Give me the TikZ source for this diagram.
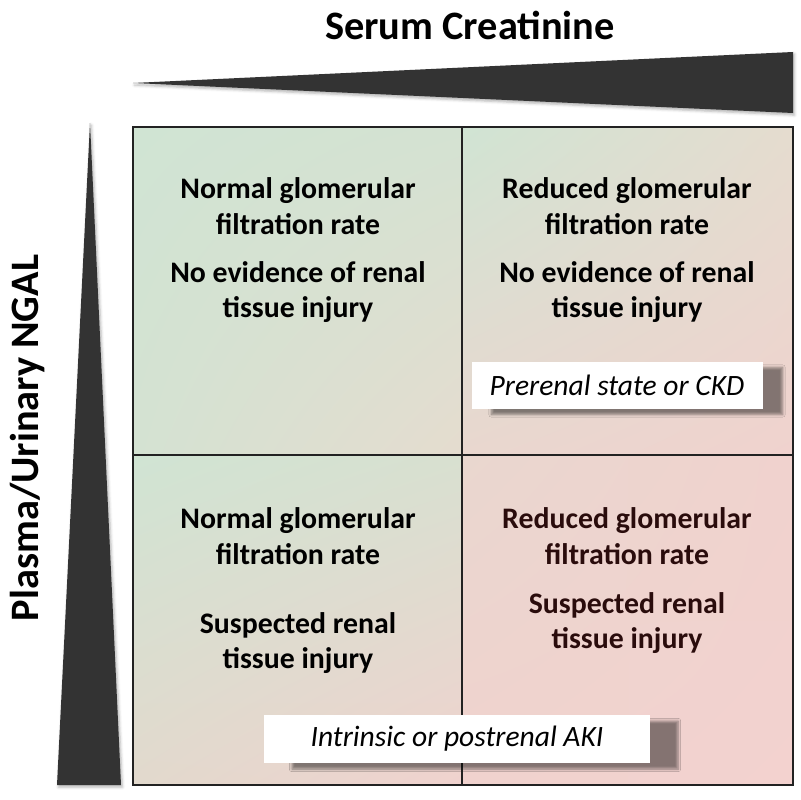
\documentclass[tikz,border=0pt]{standalone}
\usepackage{fontspec}
\setmainfont{Carlito}
\usetikzlibrary{shadings,shadows,shadows.blur,positioning,calc}
\definecolor{wedgegray}{HTML}{333333}
\definecolor{gridline}{HTML}{222222}
\definecolor{greenA}{HTML}{D0E4D3}
\definecolor{greenB}{HTML}{D4E2D2}
\definecolor{greenC}{HTML}{D8E0D0}
\definecolor{beigeA}{HTML}{E2D9CD}
\definecolor{beigeB}{HTML}{E5DCCF}
\definecolor{pinkA}{HTML}{E9D7CF}
\definecolor{pinkB}{HTML}{F0D2CE}
\definecolor{pinkC}{HTML}{F3D2CF}
\definecolor{darkbrown}{HTML}{2A0C0C}

\begin{document}
\begin{tikzpicture}[x=0.025cm,y=-0.025cm,
    celltext/.style={font=\bfseries\fontsize{21.2}{25.5}\selectfont, align=center},
    axistext/.style={font=\bfseries\fontsize{28.7}{32}\selectfont},
    tagbox/.style={fill=white, inner sep=0pt,
        font=\itshape\fontsize{21}{24}\selectfont}]
        % Fixed frame of the picture
        \useasboundingbox (0,0) rectangle (800,800);

        % Corners of the grid
        \coordinate (G1) at (133,127);
        \coordinate (G2) at (793,785);
        \coordinate (M) at (462,455);

        % Cells, each with its own diagonal shading
        \shade[upper left=greenA, upper right=greenB, lower left=greenB,
            lower right=beigeB] (G1) rectangle (M);
        \shade[upper left=greenA, upper right=beigeB, lower left=pinkA,
            lower right=pinkB] (G1 -| M) rectangle (G2 |- M);
        \shade[upper left=greenA, upper right=greenC, lower left=beigeA,
            lower right=pinkB] (G1 |- M) rectangle (M |- G2);
        \shade[upper left=pinkA, upper right=pinkB, lower left=pinkB,
            lower right=pinkC] (M) rectangle (G2);

        % Grid lines
        \begin{scope}[gridline, line width=0.9pt]
            \draw (G1) rectangle (G2);
            \draw (G1 -| M) -- (G2 -| M);
            \draw (G1 |- M) -- (G2 |- M);
        \end{scope}

        % Wedges along the axes
        \fill[wedgegray, blur shadow={shadow xshift=1pt, shadow yshift=-1.5pt,
            shadow opacity=30}] (133,83) -- (793,52) -- (793,113) -- cycle;
        \fill[wedgegray, blur shadow={shadow xshift=1pt, shadow yshift=-1.5pt,
            shadow opacity=30}] (90,123) -- (121,785) -- (57,785) -- cycle;

        % Axis titles
        \node[axistext] (creat) at (470,25) {Serum Creatinine};
        \node[axistext, rotate=90] (ngal) at (28,438) {Plasma/Urinary NGAL};

        % Top left cell
        \node[celltext] (tlA) at (298,206) {Normal glomerular\\filtration rate};
        \node[celltext] (tlB) at (298,292) {No evidence of renal\\tissue injury};

        % Top right cell
        \node[celltext] (trA) at (627,206) {Reduced glomerular\\filtration rate};
        \node[celltext] (trB) at (627,292) {No evidence of renal\\tissue injury};

        % Bottom left cell
        \node[celltext] (blA) at (298,536) {Normal glomerular\\filtration rate};
        \node[celltext] (blB) at (298,643) {Suspected renal\\tissue injury};

        % Bottom right cell
        \node[celltext, darkbrown] (brA) at (627,536) {Reduced glomerular\\filtration rate};
        \node[celltext, darkbrown] (brB) at (627,623) {Suspected renal\\tissue injury};

        % Diagnosis tags
        \node[tagbox, minimum width=291*0.025cm, minimum height=47*0.025cm,
            blur shadow={shadow xshift=0.5cm, shadow yshift=-0.15cm,
            shadow opacity=45, shadow blur steps=6}]
            (prerenal) at (617,385) {Prerenal state or CKD};
        \node[tagbox, minimum width=386*0.025cm, minimum height=48*0.025cm,
            blur shadow={shadow xshift=0.7cm, shadow yshift=-0.15cm,
            shadow opacity=45, shadow blur steps=6}]
            (intrinsic) at (457,739) {Intrinsic or postrenal AKI};

\end{tikzpicture}
\end{document}
